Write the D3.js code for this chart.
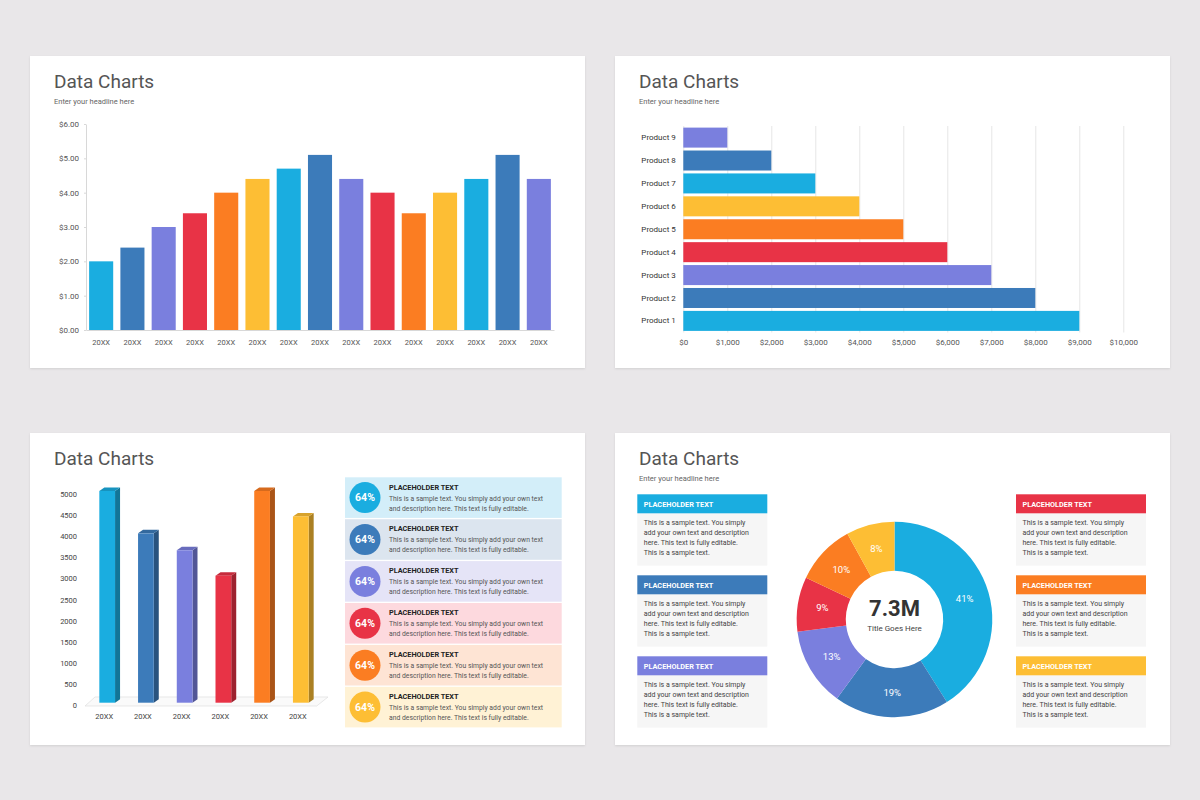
<!DOCTYPE html>
<html>
<head>
<meta charset="utf-8">
<script src="https://cdn.jsdelivr.net/npm/d3@7"></script>
<style>
body { margin: 0; background: #e9e7e9; font-family: Roboto, "Open Sans", sans-serif; }
svg text { font-family: Roboto, "Open Sans", sans-serif; }
</style>
</head>
<body>
<svg id="chart" width="1200" height="800"></svg>
<script>
// colours
var palette = ["#1aade0", "#3c7bba", "#7a7fde", "#e83346", "#fb7d22", "#fdbe34"];
var paleFills = ["#d3eef9", "#dce5ef", "#e5e4f7", "#fdd9de", "#fee4d4", "#fff2d5"];

// chart 1: yearly values
var years = ["20XX","20XX","20XX","20XX","20XX","20XX","20XX","20XX","20XX","20XX","20XX","20XX","20XX","20XX","20XX"];
var yearValues = [2.0, 2.4, 3.0, 3.4, 4.0, 4.4, 4.7, 5.1, 4.4, 4.0, 3.4, 4.0, 4.4, 5.1, 4.4];
var priceTicks = [0, 1, 2, 3, 4, 5, 6];

// chart 2: products
var products = ["Product 1","Product 2","Product 3","Product 4","Product 5","Product 6","Product 7","Product 8","Product 9"];
var productValues = [9000, 8000, 7000, 6000, 5000, 4000, 3000, 2000, 1000];
var salesTicks = [0, 1000, 2000, 3000, 4000, 5000, 6000, 7000, 8000, 9000, 10000];

// chart 3: 3d columns
var columnLabels = ["20XX","20XX","20XX","20XX","20XX","20XX"];
var columnValues = [5000, 4000, 3600, 3000, 5000, 4400];
var countTicks = [0, 500, 1000, 1500, 2000, 2500, 3000, 3500, 4000, 4500, 5000];
var rowPercents = ["64%","64%","64%","64%","64%","64%"];

// chart 4: donut
var donutValues = [41, 19, 13, 9, 10, 8];
var donutLabels = ["41%","19%","13%","9%","10%","8%"];
var donutTotal = "7.3M";
var donutTitle = "Title Goes Here";

var rowTitle = "PLACEHOLDER TEXT";
var rowLines = ["This is a sample text. You simply add your own text", "and description here. This text is fully editable."];
var panelLines = ["This is a sample text. You simply", "add your own text and description", "here. This text is fully editable.", "This is a sample text."];

var svg = d3.select("#chart");
var filter = svg.append("defs").append("filter").attr("id", "shadow")
	.attr("x", "-5%").attr("y", "-5%").attr("width", "110%").attr("height", "115%");
filter.append("feDropShadow").attr("dx", 0).attr("dy", 1).attr("stdDeviation", 1.2)
	.attr("flood-color", "#000").attr("flood-opacity", 0.10);

svg.append("rect").attr("width", 1200).attr("height", 800).attr("fill", "#e9e7e9");

function makeCard(x, y, sub) {
	var g = svg.append("g").attr("transform", "translate(" + x + "," + y + ")");
	g.append("rect").attr("width", 555).attr("height", 312).attr("fill", "#fff").attr("filter", "url(#shadow)");
	g.append("text").attr("x", 24).attr("y", 31.5).attr("font-size", 19).attr("fill", "#555").text("Data Charts");
	if (sub) {
		g.append("text").attr("x", 24).attr("y", 48).attr("font-size", 7.5).attr("fill", "#666").text(sub);
	}
	return g;
}

function styleAxis(ax, size, color) {
	ax.attr("font-family", null);
	ax.selectAll("text").attr("font-size", size).attr("fill", color);
}

// ---- chart 1 ----
var c1 = makeCard(30, 56, "Enter your headline here");
var x1 = d3.scaleBand().domain(d3.range(yearValues.length)).range([56, 524]).paddingInner(0.23).paddingOuter(0.1);
var y1 = d3.scaleLinear().domain([0, 6]).range([274, 68]);

var ay1 = c1.append("g").attr("transform", "translate(56,0)")
	.call(d3.axisLeft(y1).tickValues(priceTicks).tickFormat(d3.format("$.2f")).tickSizeInner(2).tickSizeOuter(0).tickPadding(5));
ay1.select(".domain").attr("stroke", "#d8d8d8");
ay1.selectAll(".tick line").attr("stroke", "#d8d8d8");
styleAxis(ay1, 8, "#555");

c1.selectAll("rect.bar").data(yearValues).enter().append("rect")
	.attr("class", "bar")
	.attr("x", function(d, i) { return x1(i); })
	.attr("y", function(d) { return y1(d); })
	.attr("width", x1.bandwidth())
	.attr("height", function(d) { return y1(0) - y1(d); })
	.attr("fill", function(d, i) { return palette[i % 6]; });

var ax1 = c1.append("g").attr("transform", "translate(0,274)")
	.call(d3.axisBottom(x1).tickFormat(function(i) { return years[i]; }).tickSize(0).tickPadding(10));
ax1.select(".domain").attr("stroke", "#d8d8d8");
styleAxis(ax1, 7.5, "#555");

// ---- chart 2 ----
var c2 = makeCard(615, 56, "Enter your headline here");
var x2 = d3.scaleLinear().domain([0, 10000]).range([68.3, 508.3]);
var y2 = d3.scaleBand().domain(products).range([276.5, 70]).paddingInner(0.127).paddingOuter(0.07);

var ax2 = c2.append("g").attr("transform", "translate(0,276.5)")
	.call(d3.axisBottom(x2).tickValues(salesTicks).tickFormat(d3.format("$,")).tickSizeInner(-206.5).tickSizeOuter(0).tickPadding(7));
ax2.select(".domain").remove();
ax2.selectAll(".tick line").attr("stroke", "#e6e6e6");
styleAxis(ax2, 8, "#555");

c2.selectAll("rect.bar").data(productValues).enter().append("rect")
	.attr("class", "bar")
	.attr("x", x2(0))
	.attr("y", function(d, i) { return y2(products[i]); })
	.attr("width", function(d) { return x2(d) - x2(0); })
	.attr("height", y2.bandwidth())
	.attr("fill", function(d, i) { return palette[i % 6]; });

var ay2 = c2.append("g").attr("transform", "translate(68.3,0)")
	.call(d3.axisLeft(y2).tickSize(0).tickPadding(7.5));
ay2.select(".domain").remove();
styleAxis(ay2, 8, "#333");

// ---- chart 3 ----
var c3 = makeCard(30, 433, null);
var y3 = d3.scaleLinear().domain([0, 5000]).range([273, 61.3]);
var x3 = d3.scaleBand().domain(d3.range(columnValues.length)).range([55, 293]).paddingInner(0.594).paddingOuter(0.37);
var depthX = 5, depthY = 3.5, lift = 3.3;

c3.append("polygon")
	.attr("points", [[55, y3(0)], [286.7, y3(0)], [298, y3(0) - 9], [65, y3(0) - 9]].join(" "))
	.attr("fill", "#fafafa").attr("stroke", "#dedede").attr("stroke-width", 0.7);

c3.selectAll("text.ytick").data(countTicks).enter().append("text")
	.attr("class", "ytick")
	.attr("x", 47).attr("y", function(d) { return y3(d); }).attr("dy", "0.32em")
	.attr("text-anchor", "end").attr("font-size", 7.5).attr("fill", "#444")
	.text(function(d) { return d; });

var cols = c3.selectAll("g.col").data(columnValues).enter().append("g").attr("class", "col");
cols.each(function(d, i) {
	var g = d3.select(this);
	var x0 = x3(i), w = x3.bandwidth();
	var top = y3(d) - lift, base = y3(0) - lift;
	var c = d3.color(palette[i]);
	g.append("polygon")
		.attr("points", [[x0 + w, top], [x0 + w + depthX, top - depthY], [x0 + w + depthX, base - depthY], [x0 + w, base]].join(" "))
		.attr("fill", c.darker(1.1));
	g.append("polygon")
		.attr("points", [[x0, top], [x0 + depthX, top - depthY], [x0 + w + depthX, top - depthY], [x0 + w, top]].join(" "))
		.attr("fill", c.darker(0.45));
	g.append("rect").attr("x", x0).attr("y", top).attr("width", w).attr("height", base - top).attr("fill", palette[i]);
});

c3.selectAll("text.xlab").data(columnLabels).enter().append("text")
	.attr("class", "xlab")
	.attr("x", function(d, i) { return x3(i) + x3.bandwidth() / 2 - 3; })
	.attr("y", 286).attr("text-anchor", "middle").attr("font-size", 7.5).attr("fill", "#444")
	.text(function(d) { return d; });

var rows = c3.selectAll("g.row").data(rowPercents).enter().append("g")
	.attr("class", "row")
	.attr("transform", function(d, i) { return "translate(315," + (44.3 + i * 41.9) + ")"; });
rows.append("rect").attr("width", 216.7).attr("height", 40.6).attr("fill", function(d, i) { return paleFills[i]; });
rows.append("circle").attr("cx", 20).attr("cy", 20.3).attr("r", 15.5).attr("fill", function(d, i) { return palette[i]; });
rows.append("text").attr("x", 20).attr("y", 20.3).attr("dy", "0.35em").attr("text-anchor", "middle")
	.attr("font-size", 10.5).attr("font-weight", "bold").attr("fill", "#fff").text(function(d) { return d; });
rows.append("text").attr("x", 44).attr("y", 12.3).attr("font-size", 7.3).attr("font-weight", "bold").attr("fill", "#222").text(rowTitle);
rows.append("text").attr("x", 44).attr("y", 23.3).attr("font-size", 6.8).attr("fill", "#555").text(rowLines[0]);
rows.append("text").attr("x", 44).attr("y", 33.3).attr("font-size", 6.8).attr("fill", "#555").text(rowLines[1]);

// ---- chart 4 ----
var c4 = makeCard(615, 433, "Enter your headline here");

function panel(x, y, color) {
	var g = c4.append("g").attr("transform", "translate(" + x + "," + y + ")");
	g.append("rect").attr("y", 19).attr("width", 130).attr("height", 52.3).attr("fill", "#f6f6f6");
	g.append("rect").attr("width", 130).attr("height", 19).attr("fill", color);
	g.append("text").attr("x", 6.5).attr("y", 12.3).attr("font-size", 7.3).attr("font-weight", "bold").attr("fill", "#fff").text(rowTitle);
	g.selectAll("text.line").data(panelLines).enter().append("text")
		.attr("class", "line")
		.attr("x", 6.5).attr("y", function(d, i) { return 31 + i * 10; })
		.attr("font-size", 7).attr("fill", "#444")
		.text(function(d) { return d; });
}
for (var i = 0; i < 3; i++) {
	panel(22.3, 61.3 + i * 81, palette[i]);
	panel(401, 61.3 + i * 81, palette[i + 3]);
}

var donut = c4.append("g").attr("transform", "translate(279.5,186.5)");
var pie = d3.pie().sort(null).value(function(d) { return d; });
var arc = d3.arc().innerRadius(48.7).outerRadius(97.8);
var labelArc = d3.arc().innerRadius(73).outerRadius(73);
var slices = pie(donutValues);
donut.selectAll("path").data(slices).enter().append("path")
	.attr("d", arc).attr("fill", function(d, i) { return palette[i]; });
donut.selectAll("text.pct").data(slices).enter().append("text")
	.attr("class", "pct")
	.attr("transform", function(d) { return "translate(" + labelArc.centroid(d) + ")"; })
	.attr("dy", "0.35em").attr("text-anchor", "middle").attr("font-size", 9.5).attr("fill", "#fff")
	.text(function(d, i) { return donutLabels[i]; });
donut.append("text").attr("y", -3.5).attr("text-anchor", "middle").attr("font-size", 22).attr("font-weight", "bold").attr("fill", "#333").text(donutTotal);
donut.append("text").attr("y", 11.2).attr("text-anchor", "middle").attr("font-size", 8).attr("fill", "#444").text(donutTitle);
</script>
</body>
</html>
